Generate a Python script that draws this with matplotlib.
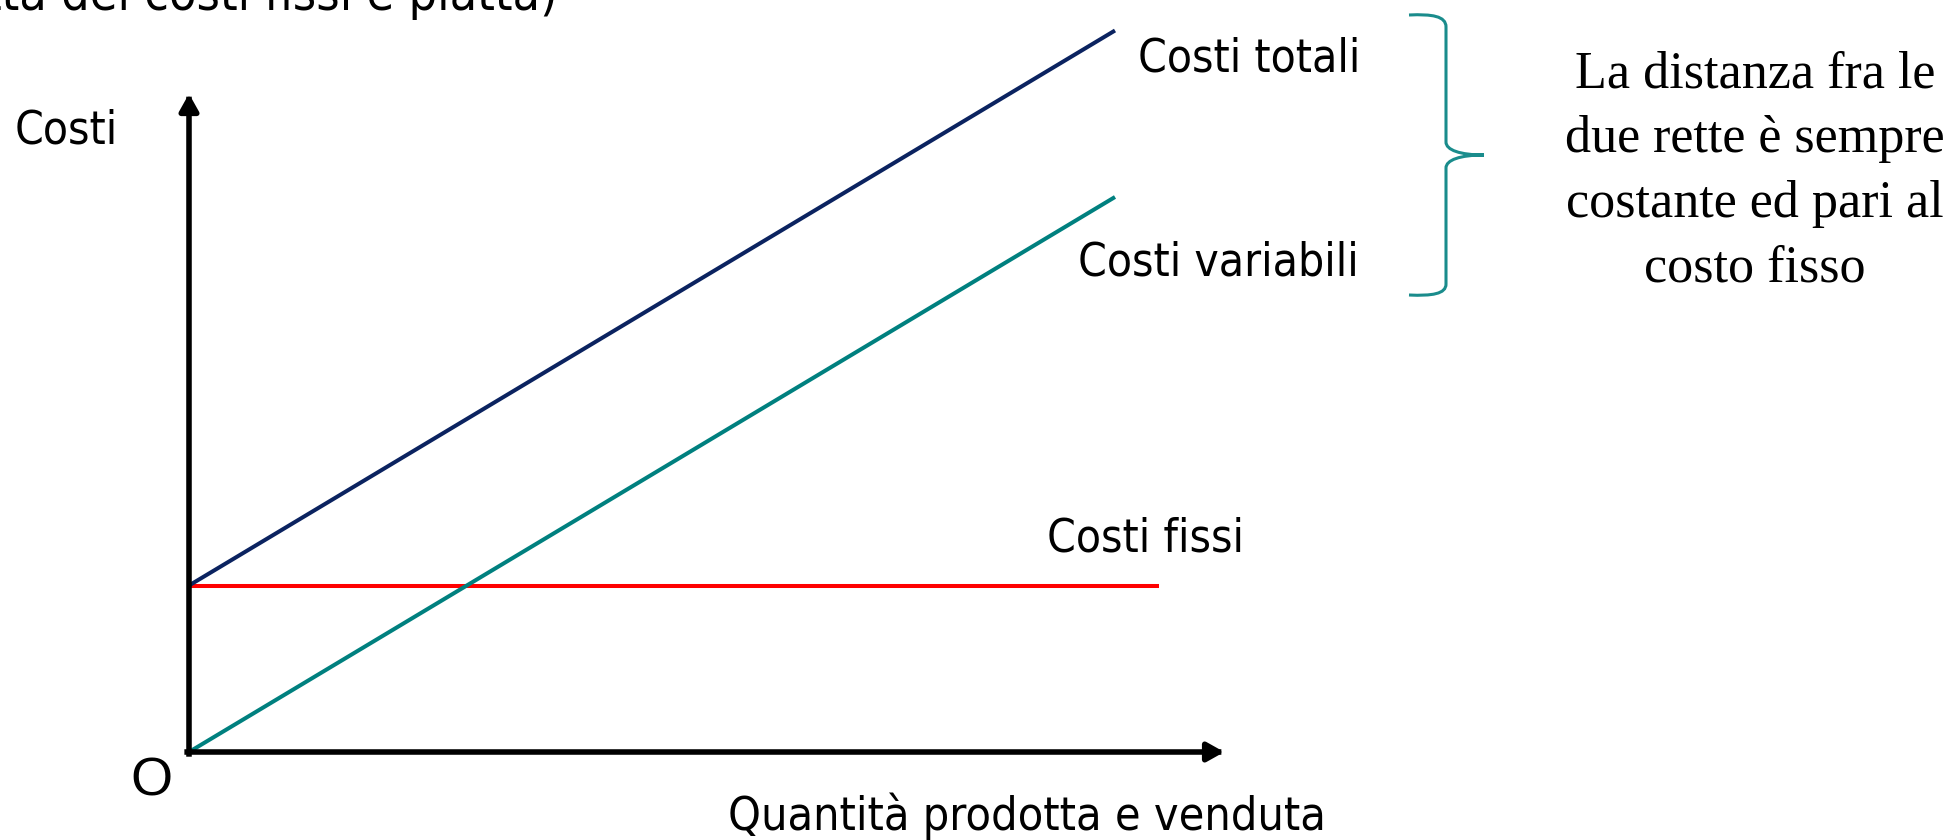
import matplotlib
matplotlib.use("Agg")
import matplotlib.pyplot as plt
import numpy as np
from matplotlib.path import Path
from matplotlib.patches import PathPatch

# --- data -------------------------------------------------------------
quantity = np.array([0.0, 10.0])          # quantità prodotta e venduta
fixed_cost = 3.0                           # costo fisso
unit_variable_cost = 1.0                   # costo variabile unitario
fixed_line_end = 10.47                     # fine della retta dei costi fissi
x_axis_end = 11.18
y_axis_end = 11.86

fixed_costs = np.array([fixed_cost, fixed_cost])
fixed_q = np.array([0.0, fixed_line_end])
variable_costs = unit_variable_cost * quantity
total_costs = fixed_cost + variable_costs

labels = {
    "total": "Costi totali",
    "variable": "Costi variabili",
    "fixed": "Costi fissi",
    "ylabel": "Costi",
    "xlabel": "Quantità prodotta e venduta",
    "origin": "O",
    "title": "(la retta dei costi fissi è piatta)",
    "note": ["La distanza fra le", "due rette è sempre",
             "costante ed pari al", "costo fisso"],
}

# --- figure -------------------------------------------------------------
W, H = 1958, 840
fig = plt.figure(figsize=(W / 100, H / 100), dpi=100)
ax = fig.add_axes([0, 0, 1, 1])
ax.set_axis_off()

# data <-> pixel scale: origin at (189, 752), 92.6 px per unit in x, 55.5 px in y
ox, oy, sx, sy = 189.0, 752.0, 92.6, 55.5
ax.set_xlim(-ox / sx, (W - ox) / sx)
ax.set_ylim(-(H - oy) / sy, oy / sy)


def fig_xy(px, py):
    return px / W, 1 - py / H


sans = dict(family=["DejaVu Sans"], fontstretch="condensed")
serif = dict(family=["Liberation Serif", "DejaVu Serif"])

# cost lines
ax.plot(quantity, total_costs, color="#0B2360", lw=2.9, solid_capstyle="butt", zorder=3)
ax.plot(quantity, variable_costs, color="#00807F", lw=2.9, solid_capstyle="butt", zorder=3)
ax.plot(fixed_q, fixed_costs, color="#FF0000", lw=2.9, solid_capstyle="butt", zorder=2)

# axes with arrow heads
arrow = dict(arrowstyle="-|>,head_length=0.5,head_width=0.28", lw=4.0, color="black",
             shrinkA=0, shrinkB=0, mutation_scale=20, capstyle="projecting")
ax.annotate("", xy=(x_axis_end, 0), xytext=(-0.02, 0), arrowprops=arrow, zorder=4)
ax.annotate("", xy=(0, y_axis_end), xytext=(0, -0.035), arrowprops=arrow, zorder=4)

# text labels
fs = 33
fig.text(*fig_xy(1138, 72), labels["total"], fontsize=fs, ha="left", va="baseline", **sans)
fig.text(*fig_xy(1359, 275), labels["variable"], fontsize=fs, ha="right", va="baseline", **sans)
fig.text(*fig_xy(1047, 551), labels["fixed"], fontsize=fs, ha="left", va="baseline", **sans)
fig.text(*fig_xy(15, 143), labels["ylabel"], fontsize=fs, ha="left", va="baseline", **sans)
fig.text(*fig_xy(728, 830), labels["xlabel"], fontsize=33.5, ha="left", va="baseline", **sans)
fig.text(*fig_xy(558, 10), labels["title"], fontsize=36, ha="right", va="baseline", **sans)
fig.text(*fig_xy(151, 781), labels["origin"], fontsize=39, ha="center", va="center",
         family=["Liberation Sans", "DejaVu Sans"])

# brace
brace_px = [
    (1409, 15), (1432, 14), (1446, 16), (1446, 27),
    (1446, 142),
    (1446, 150), (1460, 155), (1484, 155),
    (1460, 155), (1446, 160), (1446, 168),
    (1446, 284),
    (1446, 294), (1432, 296), (1409, 295),
]
codes = [Path.MOVETO, Path.CURVE4, Path.CURVE4, Path.CURVE4,
         Path.LINETO,
         Path.CURVE4, Path.CURVE4, Path.CURVE4,
         Path.CURVE4, Path.CURVE4, Path.CURVE4,
         Path.LINETO,
         Path.CURVE4, Path.CURVE4, Path.CURVE4]
verts = [fig_xy(x, y) for x, y in brace_px]
fig.patches.append(PathPatch(Path(verts, codes), transform=fig.transFigure,
                             fill=False, edgecolor="#1A8C8C", lw=2.2))

# note on the right
for i, line in enumerate(labels["note"]):
    fig.text(*fig_xy(1755, 87 + 65 * i), line, fontsize=37.5, ha="center",
             va="baseline", **serif)

fig.savefig("out.png", dpi=100, facecolor="white")
